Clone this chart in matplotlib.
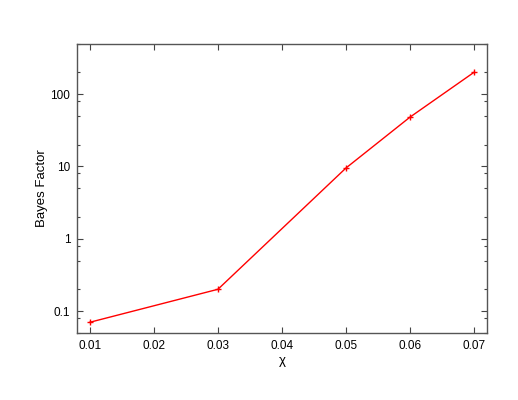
import matplotlib
matplotlib.use('Agg')
import matplotlib.pyplot as plt
from matplotlib.ticker import FixedLocator, FixedFormatter, NullFormatter

# values
chi = [0.01, 0.03, 0.05, 0.06, 0.07]
bayes = [0.07, 0.2, 9.5, 48, 200]

x_ticks = [0.01, 0.02, 0.03, 0.04, 0.05, 0.06, 0.07]
x_labels = ['0.01', '0.02', '0.03', '0.04', '0.05', '0.06', '0.07']
y_ticks = [0.1, 1, 10, 100]
y_labels = ['0.1', '1', '10', '100']
y_minor = [m * d for d in [0.01, 0.1, 1, 10, 100] for m in (2, 5, 8)]

plt.rcParams['font.family'] = ['Liberation Sans', 'DejaVu Sans']

fig = plt.figure(figsize=(5.18, 4.0), dpi=100)
ax = fig.add_axes([0.149, 0.168, 0.7906, 0.723])

ax.plot(chi, bayes, color='red', linewidth=1.0, marker='+', markersize=4.5, markeredgewidth=1.0)

ax.set_yscale('log')
ax.set_xlim(0.008, 0.072)
ax.set_ylim(0.05, 500)

ax.xaxis.set_major_locator(FixedLocator(x_ticks))
ax.xaxis.set_major_formatter(FixedFormatter(x_labels))
ax.yaxis.set_major_locator(FixedLocator(y_ticks))
ax.yaxis.set_major_formatter(FixedFormatter(y_labels))
ax.yaxis.set_minor_locator(FixedLocator(y_minor))
ax.yaxis.set_minor_formatter(NullFormatter())
ax.xaxis.set_minor_locator(FixedLocator([]))

ax.tick_params(which='both', direction='in', top=True, right=True, colors='#444444', labelcolor='black', labelsize=8.5, width=0.8)
ax.tick_params(which='major', length=4.5, pad=5)
ax.tick_params(which='minor', length=2.5)

for s in ax.spines.values():
    s.set_color('#555555')
    s.set_linewidth(1.0)

ax.set_xlabel('χ', fontsize=9.5, labelpad=2)
ax.set_ylabel('Bayes Factor', fontsize=9.5, labelpad=2)

fig.savefig('out.png', dpi=100)
